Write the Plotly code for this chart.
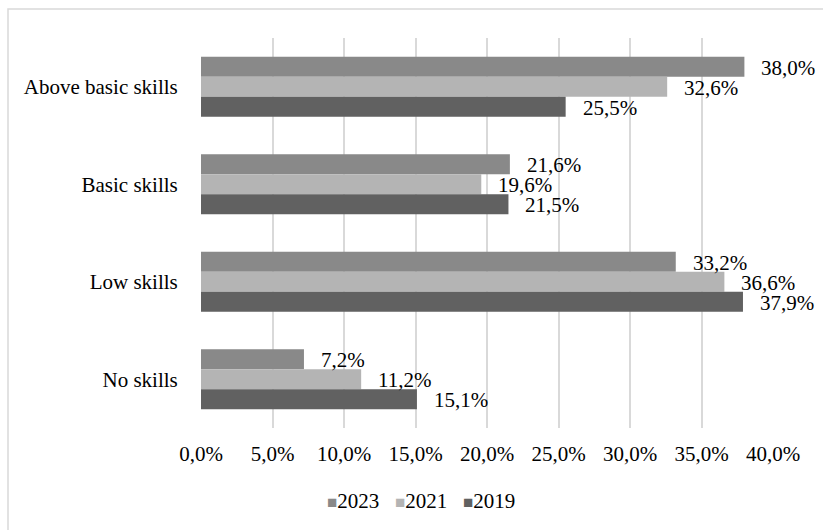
import plotly.graph_objects as go

categories = ["Above basic skills", "Basic skills", "Low skills", "No skills"]
years = ["2023", "2021", "2019"]
values_2023 = [38.0, 21.6, 33.2, 7.2]
values_2021 = [32.6, 19.6, 36.6, 11.2]
values_2019 = [25.5, 21.5, 37.9, 15.1]
tick_vals = [0, 5, 10, 15, 20, 25, 30, 35, 40]
tick_text = ["0,0%", "5,0%", "10,0%", "15,0%", "20,0%", "25,0%", "30,0%", "35,0%", "40,0%"]

series = [values_2023, values_2021, values_2019]
colors = ["#898989", "#b4b4b4", "#616161"]
yshifts = [19, -1, -21]

FONT = "'Times New Roman', 'Liberation Serif', serif"
FS = 21

fig = go.Figure()
for name, vals, col in zip(years, series, colors):
    fig.add_trace(go.Bar(
        y=categories, x=vals, name=name, orientation="h",
        marker=dict(color=col, line=dict(width=0)), showlegend=False,
    ))

annotations = []
for vals, ys in zip(series, yshifts):
    for cat, v in zip(categories, vals):
        annotations.append(dict(
            x=v, y=cat, xref="x", yref="y", xanchor="left", yanchor="middle",
            text=f"{v:.1f}%".replace(".", ","), showarrow=False,
            xshift=15, yshift=ys, font=dict(family=FONT, size=FS, color="#000000"),
        ))

L, R, T, B = 201, 50, 38, 102
W, H = 823, 530
pw, ph = W - L - R, H - T - B

# legend drawn as a single text line (small squares + year labels)
sq = "<span style='font-size:17px;color:{c}'>\u25A0</span>{t}"
legend_text = "\u00A0\u00A0\u00A0".join(sq.format(c=c, t=y) for c, y in zip(colors, years))
annotations.append(dict(
    x=(421 - L) / pw, y=-(501 - (T + ph)) / ph, xref="paper", yref="paper",
    xanchor="center", yanchor="middle", text=legend_text, showarrow=False,
    font=dict(family=FONT, size=FS, color="#000000"),
))

fig.update_layout(
    width=W, height=H,
    margin=dict(l=L, r=R, t=T, b=B),
    paper_bgcolor="white", plot_bgcolor="white",
    barmode="group", bargap=0.385, bargroupgap=0,
    font=dict(family=FONT, size=FS, color="#000000"),
    annotations=annotations,
    showlegend=False,
    shapes=[dict(type="rect", xref="paper", yref="paper",
                 x0=(8 - L) / pw, x1=(840 - L) / pw,
                 y0=-(545 - T - ph) / ph, y1=1 + (T - 9) / ph,
                 line=dict(color="#d9d9d9", width=1.5), layer="below")],
)
fig.update_xaxes(range=[0, 40], tickvals=tick_vals, ticktext=tick_text,
                 showgrid=True, gridcolor="#d9d9d9", gridwidth=1.5, zeroline=False,
                 showline=False, ticks="outside", ticklen=7, tickcolor="rgba(0,0,0,0)",
                 tickfont=dict(family=FONT, size=FS))
fig.update_yaxes(autorange="reversed", showgrid=False, zeroline=False, showline=False,
                 ticks="outside", ticklen=18, tickcolor="rgba(0,0,0,0)",
                 tickfont=dict(family=FONT, size=FS))

fig.write_html("out.html")
